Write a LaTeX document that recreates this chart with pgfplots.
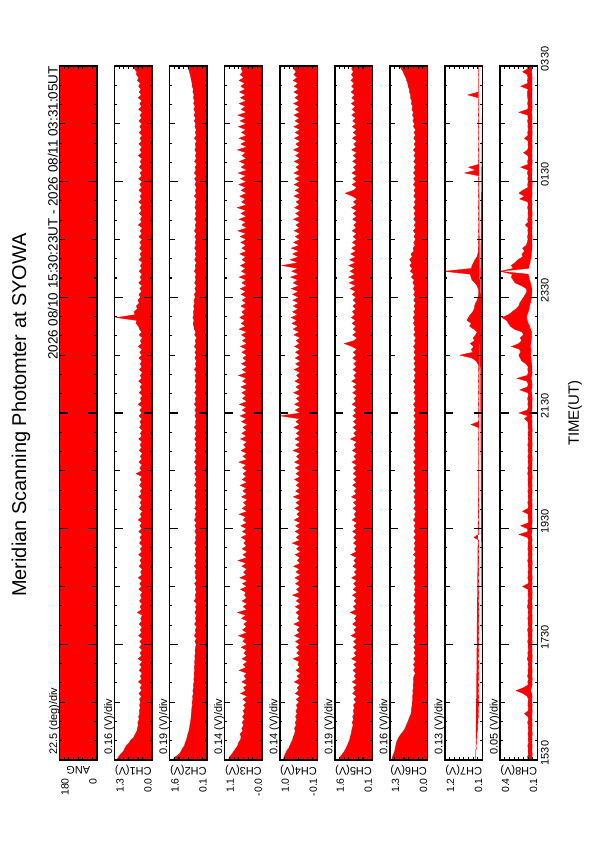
\documentclass[border=0pt]{standalone}
\usepackage{pgfplots}
\pgfplotsset{compat=1.18}
\usepackage{pgfplotstable}
\usepgfplotslibrary{fillbetween}
\usepackage{fontspec}
\setmainfont{Liberation Sans}
\definecolor{msp}{RGB}{255,0,0}

\pgfplotstableread{
t c1 c2 c3 c4 c5 c6 c7 c8l c8u
15.50 1.22 1.48 0.98 0.93 1.45 1.22 0.300 0.108 0.150
15.55 1.15 1.38 0.95 0.92 1.40 1.20 0.310 0.110 0.158
15.60 1.08 1.22 0.88 0.88 1.30 1.16 0.290 0.106 0.147
15.65 0.98 1.14 0.82 0.84 1.22 1.12 0.300 0.111 0.152
15.70 0.93 1.08 0.76 0.78 1.15 1.10 0.280 0.109 0.149
15.75 0.88 1.00 0.70 0.74 1.10 1.08 0.290 0.107 0.155
15.80 0.78 0.97 0.68 0.70 1.05 1.06 0.270 0.112 0.146
15.85 0.72 0.92 0.62 0.66 1.00 1.02 0.280 0.108 0.151
15.90 0.62 0.89 0.60 0.64 0.98 0.97 0.260 0.110 0.148
15.95 0.57 0.86 0.63 0.60 0.94 0.90 0.270 0.106 0.153
16.00 0.52 0.82 0.55 0.58 0.92 0.82 0.250 0.109 0.147
16.05 0.50 0.80 0.58 0.60 0.90 0.76 0.240 0.111 0.150
16.10 0.47 0.78 0.52 0.55 0.86 0.72 0.250 0.107 0.149
16.15 0.49 0.76 0.57 0.58 0.90 0.68 0.230 0.110 0.156
16.20 0.44 0.74 0.50 0.53 0.84 0.64 0.240 0.108 0.147
16.25 0.46 0.73 0.56 0.57 0.88 0.60 0.220 0.112 0.152
16.30 0.42 0.72 0.49 0.52 0.82 0.56 0.230 0.109 0.190
16.35 0.44 0.71 0.55 0.56 0.86 0.55 0.220 0.107 0.151
16.40 0.40 0.70 0.47 0.50 0.80 0.54 0.230 0.110 0.148
16.45 0.43 0.68 0.53 0.55 0.85 0.52 0.210 0.108 0.153
16.50 0.39 0.69 0.44 0.46 0.74 0.52 0.215 0.109 0.152
16.55 0.43 0.66 0.55 0.55 0.83 0.50 0.228 0.111 0.147
16.60 0.36 0.67 0.41 0.43 0.72 0.51 0.210 0.107 0.160
16.65 0.45 0.64 0.62 0.58 0.88 0.49 0.232 0.112 0.205
16.70 0.35 0.66 0.46 0.47 0.76 0.50 0.214 0.125 0.280
16.75 0.41 0.63 0.53 0.52 0.85 0.48 0.224 0.115 0.200
16.80 0.34 0.64 0.42 0.44 0.71 0.49 0.208 0.108 0.150
16.85 0.47 0.61 0.58 0.61 0.90 0.47 0.236 0.110 0.155
16.90 0.36 0.62 0.44 0.45 0.73 0.48 0.212 0.106 0.146
16.95 0.40 0.60 0.51 0.53 0.81 0.46 0.226 0.111 0.158
17.00 0.34 0.61 0.43 0.42 0.74 0.41 0.209 0.109 0.149
17.05 0.44 0.59 0.66 0.56 0.87 0.47 0.230 0.107 0.153
17.10 0.35 0.60 0.45 0.44 0.72 0.42 0.211 0.110 0.147
17.15 0.42 0.58 0.54 0.50 0.84 0.48 0.222 0.112 0.151
17.20 0.33 0.59 0.41 0.46 0.70 0.41 0.207 0.108 0.148
17.25 0.48 0.57 0.57 0.64 0.92 0.47 0.238 0.109 0.162
17.30 0.36 0.58 0.43 0.43 0.73 0.40 0.213 0.106 0.150
17.35 0.41 0.56 0.52 0.54 0.82 0.46 0.225 0.111 0.155
17.40 0.34 0.57 0.44 0.45 0.71 0.41 0.210 0.108 0.146
17.45 0.43 0.55 0.60 0.55 0.86 0.47 0.229 0.110 0.152
17.50 0.35 0.52 0.42 0.44 0.72 0.40 0.212 0.109 0.149
17.55 0.42 0.58 0.55 0.57 0.84 0.46 0.224 0.107 0.156
17.60 0.33 0.51 0.47 0.42 0.70 0.41 0.208 0.111 0.147
17.65 0.46 0.60 0.68 0.60 0.95 0.48 0.233 0.108 0.153
17.70 0.36 0.53 0.43 0.45 0.74 0.40 0.211 0.110 0.150
17.75 0.40 0.57 0.56 0.53 0.83 0.45 0.220 0.106 0.158
17.80 0.34 0.50 0.44 0.43 0.71 0.39 0.209 0.112 0.146
17.85 0.44 0.59 0.52 0.62 0.88 0.47 0.230 0.109 0.152
17.90 0.35 0.52 0.41 0.44 0.73 0.41 0.213 0.107 0.149
17.95 0.39 0.56 0.59 0.51 0.80 0.44 0.218 0.110 0.155
18.00 0.33 0.51 0.45 0.46 0.70 0.40 0.207 0.108 0.147
18.05 0.50 0.58 0.71 0.56 0.98 0.49 0.226 0.111 0.151
18.10 0.36 0.52 0.43 0.43 0.74 0.41 0.210 0.109 0.148
18.15 0.41 0.55 0.54 0.58 0.85 0.45 0.222 0.107 0.160
18.20 0.34 0.50 0.42 0.42 0.71 0.39 0.208 0.110 0.150
18.25 0.43 0.61 0.57 0.55 0.82 0.46 0.231 0.112 0.154
18.30 0.35 0.53 0.44 0.44 0.72 0.40 0.211 0.108 0.146
18.35 0.40 0.57 0.50 0.66 0.89 0.47 0.219 0.109 0.153
18.40 0.33 0.51 0.46 0.45 0.70 0.41 0.209 0.106 0.149
18.45 0.45 0.56 0.62 0.54 0.86 0.44 0.228 0.110 0.152
18.50 0.36 0.52 0.43 0.43 0.73 0.40 0.212 0.112 0.210
18.55 0.42 0.59 0.56 0.57 0.84 0.46 0.224 0.108 0.150
18.60 0.34 0.50 0.41 0.44 0.71 0.39 0.208 0.110 0.147
18.65 0.47 0.57 0.64 0.59 0.92 0.48 0.234 0.107 0.155
18.70 0.35 0.53 0.45 0.42 0.72 0.41 0.210 0.109 0.148
18.75 0.39 0.58 0.53 0.56 0.81 0.45 0.221 0.111 0.153
18.80 0.33 0.51 0.42 0.45 0.70 0.40 0.207 0.108 0.146
18.85 0.44 0.60 0.58 0.63 0.87 0.47 0.229 0.110 0.151
18.90 0.36 0.52 0.44 0.43 0.74 0.41 0.212 0.106 0.149
18.95 0.41 0.56 0.69 0.52 0.83 0.44 0.219 0.109 0.156
19.00 0.34 0.51 0.43 0.44 0.71 0.39 0.209 0.111 0.147
19.05 0.46 0.58 0.55 0.58 0.96 0.48 0.230 0.108 0.152
19.10 0.35 0.52 0.41 0.42 0.73 0.40 0.211 0.110 0.148
19.15 0.40 0.57 0.57 0.54 0.80 0.46 0.223 0.107 0.154
19.20 0.33 0.50 0.44 0.45 0.70 0.41 0.208 0.109 0.150
19.25 0.43 0.59 0.52 0.67 0.85 0.45 0.227 0.112 0.153
19.30 0.36 0.53 0.45 0.44 0.72 0.40 0.213 0.108 0.146
19.35 0.41 0.56 0.60 0.55 0.84 0.47 0.350 0.110 0.158
19.40 0.34 0.51 0.42 0.43 0.71 0.39 0.215 0.115 0.250
19.45 0.45 0.58 0.56 0.58 0.88 0.46 0.226 0.109 0.152
19.50 0.35 0.52 0.44 0.44 0.73 0.41 0.210 0.108 0.160
19.55 0.42 0.58 0.61 0.57 0.83 0.45 0.222 0.113 0.230
19.60 0.34 0.51 0.43 0.42 0.70 0.40 0.209 0.109 0.150
19.65 0.47 0.60 0.54 0.61 0.90 0.48 0.232 0.107 0.147
19.70 0.36 0.53 0.45 0.45 0.74 0.41 0.212 0.110 0.153
19.75 0.40 0.57 0.66 0.53 0.82 0.44 0.220 0.108 0.149
19.80 0.33 0.50 0.42 0.43 0.71 0.39 0.208 0.111 0.210
19.85 0.44 0.59 0.57 0.59 0.87 0.47 0.228 0.109 0.152
19.90 0.35 0.52 0.44 0.44 0.72 0.40 0.211 0.107 0.148
19.95 0.41 0.56 0.53 0.56 0.85 0.45 0.224 0.110 0.155
20.00 0.34 0.51 0.41 0.42 0.70 0.41 0.207 0.108 0.147
20.05 0.46 0.58 0.59 0.64 0.93 0.46 0.231 0.112 0.151
20.10 0.36 0.53 0.43 0.43 0.73 0.40 0.213 0.109 0.149
20.15 0.40 0.57 0.55 0.57 0.81 0.48 0.219 0.107 0.154
20.20 0.33 0.50 0.44 0.44 0.71 0.39 0.209 0.110 0.146
20.25 0.43 0.60 0.63 0.55 0.88 0.45 0.229 0.108 0.152
20.30 0.35 0.52 0.42 0.45 0.72 0.41 0.211 0.111 0.150
20.35 0.41 0.56 0.57 0.60 0.84 0.46 0.222 0.109 0.153
20.40 0.34 0.51 0.45 0.43 0.70 0.40 0.208 0.107 0.148
20.45 0.55 0.59 0.54 0.56 0.86 0.47 0.226 0.110 0.156
20.50 0.36 0.52 0.43 0.44 0.73 0.41 0.212 0.109 0.149
20.55 0.42 0.58 0.56 0.58 0.85 0.46 0.224 0.111 0.155
20.60 0.34 0.51 0.44 0.42 0.71 0.40 0.209 0.108 0.147
20.65 0.45 0.60 0.67 0.60 0.91 0.48 0.230 0.110 0.152
20.70 0.35 0.53 0.42 0.45 0.72 0.39 0.211 0.107 0.149
20.75 0.40 0.56 0.55 0.54 0.83 0.45 0.221 0.109 0.154
20.80 0.33 0.50 0.43 0.43 0.70 0.41 0.208 0.112 0.146
20.85 0.44 0.59 0.60 0.65 0.89 0.47 0.229 0.108 0.153
20.90 0.36 0.52 0.45 0.44 0.74 0.40 0.212 0.110 0.148
20.95 0.41 0.57 0.53 0.57 0.82 0.46 0.223 0.107 0.155
21.00 0.34 0.51 0.42 0.42 0.71 0.39 0.209 0.109 0.147
21.05 0.46 0.59 0.62 0.59 0.97 0.48 0.231 0.111 0.151
21.10 0.35 0.52 0.44 0.44 0.73 0.41 0.212 0.108 0.149
21.15 0.40 0.57 0.58 0.55 0.84 0.45 0.222 0.110 0.153
21.20 0.33 0.50 0.43 0.43 0.70 0.40 0.208 0.107 0.146
21.25 0.43 0.60 0.55 0.62 0.87 0.47 0.228 0.109 0.152
21.30 0.36 0.53 0.41 0.45 0.72 0.41 0.430 0.111 0.150
21.35 0.41 0.56 0.59 0.56 0.85 0.46 0.224 0.108 0.155
21.40 0.34 0.51 0.44 0.44 0.71 0.39 0.210 0.113 0.190
21.45 0.45 0.58 0.63 1.04 0.88 0.47 0.227 0.109 0.152
21.50 0.35 0.52 0.43 0.43 0.73 0.40 0.213 0.118 0.250
21.55 0.42 0.58 0.57 0.58 0.84 0.46 0.222 0.110 0.160
21.60 0.34 0.51 0.44 0.42 0.71 0.41 0.209 0.108 0.148
21.65 0.47 0.60 0.65 0.60 0.90 0.48 0.233 0.111 0.154
21.70 0.36 0.53 0.42 0.44 0.74 0.40 0.212 0.109 0.150
21.75 0.40 0.57 0.56 0.55 0.82 0.45 0.220 0.107 0.157
21.80 0.33 0.50 0.45 0.43 0.70 0.39 0.208 0.110 0.147
21.85 0.44 0.59 0.58 0.63 0.88 0.47 0.229 0.112 0.153
21.90 0.35 0.52 0.43 0.44 0.72 0.41 0.211 0.115 0.240
21.95 0.41 0.56 0.61 0.56 0.85 0.46 0.223 0.109 0.158
22.00 0.34 0.51 0.42 0.42 0.71 0.40 0.209 0.108 0.149
22.05 0.46 0.58 0.56 0.59 0.92 0.48 0.230 0.112 0.165
22.10 0.36 0.53 0.44 0.45 0.73 0.41 0.213 0.118 0.270
22.15 0.40 0.57 0.68 0.54 0.83 0.45 0.221 0.110 0.160
22.20 0.33 0.50 0.43 0.43 0.70 0.39 0.208 0.108 0.148
22.25 0.43 0.60 0.57 0.61 0.87 0.47 0.228 0.111 0.155
22.30 0.35 0.52 0.42 0.44 0.72 0.40 0.212 0.109 0.151
22.35 0.41 0.56 0.59 0.57 0.84 0.46 0.235 0.113 0.175
22.40 0.34 0.51 0.44 0.42 0.71 0.41 0.290 0.116 0.220
22.45 0.45 0.58 0.55 0.58 0.88 0.47 0.400 0.120 0.235
22.50 0.35 0.52 0.43 0.44 0.73 0.40 0.740 0.125 0.250
22.55 0.42 0.58 0.58 0.57 0.85 0.46 0.380 0.120 0.230
22.60 0.34 0.51 0.44 0.43 0.71 0.41 0.420 0.118 0.240
22.65 0.47 0.60 0.62 0.60 0.90 0.48 0.350 0.128 0.330
22.70 0.36 0.53 0.42 0.45 1.22 0.40 0.450 0.122 0.250
22.75 0.40 0.57 0.56 0.55 0.83 0.45 0.330 0.118 0.220
22.80 0.33 0.50 0.45 0.43 0.70 0.39 0.370 0.115 0.235
22.85 0.44 0.59 0.59 0.62 0.88 0.47 0.300 0.112 0.200
22.90 0.35 0.54 0.43 0.46 0.72 0.41 0.260 0.114 0.215
22.95 0.43 0.60 0.66 0.64 0.86 0.46 0.350 0.125 0.300
23.00 0.46 0.62 0.47 0.50 0.74 0.42 0.470 0.135 0.340
23.05 0.55 0.65 0.60 0.68 0.90 0.48 0.420 0.150 0.360
23.10 0.52 0.61 0.48 0.52 0.76 0.43 0.540 0.160 0.380
23.15 1.23 0.66 0.64 0.70 0.93 0.49 0.500 0.170 0.430
23.20 0.58 0.62 0.50 0.51 0.78 0.42 0.450 0.160 0.360
23.25 0.62 0.64 0.58 0.66 0.89 0.47 0.380 0.150 0.320
23.30 0.50 0.60 0.46 0.49 0.75 0.41 0.340 0.140 0.280
23.35 0.54 0.63 0.61 0.64 0.87 0.46 0.330 0.135 0.250
23.40 0.44 0.59 0.45 0.48 0.73 0.40 0.300 0.128 0.240
23.45 0.48 0.62 0.57 0.65 0.86 0.47 0.260 0.120 0.220
23.50 0.40 0.56 0.44 0.47 0.74 0.41 0.230 0.115 0.200
23.55 0.45 0.60 0.60 0.66 0.90 0.47 0.220 0.112 0.180
23.60 0.35 0.53 0.46 0.48 0.76 0.42 0.215 0.110 0.165
23.65 0.42 0.58 0.63 0.70 0.98 0.48 0.228 0.111 0.170
23.70 0.34 0.52 0.43 0.47 0.75 0.43 0.260 0.118 0.220
23.75 0.46 0.59 0.58 0.64 1.02 0.50 0.320 0.125 0.290
23.80 0.36 0.53 0.45 0.50 0.77 0.45 0.400 0.135 0.310
23.85 0.41 0.57 0.66 0.72 1.05 0.55 0.430 0.140 0.330
23.90 0.34 0.52 0.44 0.48 0.78 0.47 0.450 0.150 0.320
23.95 0.44 0.60 0.59 0.68 0.99 0.58 1.180 0.450 0.450
24.00 0.35 0.54 0.47 0.50 0.79 0.52 0.420 0.145 0.310
24.05 0.40 0.57 0.62 0.98 1.04 0.60 0.400 0.140 0.330
24.10 0.33 0.51 0.45 0.49 0.76 0.53 0.360 0.130 0.290
24.15 0.45 0.59 0.57 0.73 1.00 0.61 0.320 0.125 0.260
24.20 0.36 0.53 0.46 0.48 0.75 0.52 0.260 0.118 0.210
24.25 0.41 0.57 0.64 0.66 0.96 0.56 0.240 0.114 0.215
24.30 0.34 0.52 0.44 0.47 0.74 0.46 0.225 0.112 0.190
24.35 0.43 0.59 0.58 0.70 0.92 0.49 0.230 0.110 0.210
24.40 0.35 0.53 0.45 0.46 0.73 0.42 0.215 0.108 0.170
24.45 0.42 0.57 0.61 0.63 0.89 0.47 0.228 0.111 0.160
24.50 0.34 0.52 0.44 0.44 0.72 0.40 0.212 0.109 0.152
24.55 0.45 0.58 0.63 0.58 0.86 0.46 0.224 0.107 0.158
24.60 0.35 0.51 0.45 0.43 0.71 0.41 0.209 0.110 0.149
24.65 0.41 0.60 0.70 0.61 0.90 0.48 0.230 0.112 0.155
24.70 0.33 0.53 0.43 0.45 0.73 0.40 0.211 0.108 0.150
24.75 0.47 0.57 0.58 0.56 0.84 0.45 0.221 0.110 0.180
24.80 0.36 0.50 0.46 0.43 0.70 0.39 0.208 0.107 0.151
24.85 0.40 0.59 0.66 0.63 0.88 0.47 0.229 0.111 0.156
24.90 0.34 0.52 0.44 0.44 0.72 0.41 0.212 0.109 0.148
24.95 0.44 0.56 0.61 0.57 0.86 0.46 0.223 0.107 0.153
25.00 0.35 0.51 0.45 0.42 0.71 0.40 0.209 0.110 0.149
25.05 0.42 0.58 0.72 0.60 0.93 0.48 0.231 0.112 0.157
25.10 0.34 0.53 0.44 0.45 0.73 0.41 0.213 0.108 0.150
25.15 0.46 0.57 0.59 0.55 0.85 0.45 0.222 0.109 0.155
25.20 0.36 0.50 0.47 0.43 0.70 0.39 0.208 0.113 0.240
25.25 0.41 0.60 0.64 0.62 0.89 0.47 0.230 0.110 0.190
25.30 0.34 0.52 0.44 0.44 1.18 0.41 0.212 0.108 0.250
25.35 0.45 0.56 0.60 0.58 0.85 0.46 0.224 0.111 0.210
25.40 0.35 0.51 0.46 0.43 0.71 0.40 0.209 0.109 0.152
25.45 0.42 0.58 0.67 0.61 0.90 0.48 0.229 0.107 0.156
25.50 0.34 0.52 0.44 0.44 0.72 0.41 0.212 0.108 0.150
25.55 0.46 0.59 0.62 0.59 0.87 0.47 0.225 0.110 0.155
25.60 0.35 0.51 0.45 0.43 0.71 0.40 0.209 0.112 0.149
25.65 0.41 0.60 0.69 0.62 0.91 0.48 0.610 0.110 0.160
25.70 0.33 0.53 0.43 0.45 0.73 0.41 0.300 0.108 0.150
25.75 0.44 0.57 0.60 0.56 0.85 0.46 0.500 0.113 0.230
25.80 0.36 0.50 0.47 0.44 0.70 0.39 0.215 0.109 0.151
25.85 0.40 0.59 0.65 0.61 0.88 0.47 0.228 0.107 0.157
25.90 0.34 0.52 0.44 0.43 0.72 0.40 0.211 0.110 0.148
25.95 0.47 0.56 0.58 0.57 0.86 0.46 0.223 0.108 0.154
26.00 0.35 0.51 0.46 0.44 0.71 0.41 0.209 0.111 0.200
26.05 0.42 0.58 0.71 0.63 0.92 0.48 0.232 0.109 0.156
26.10 0.34 0.53 0.43 0.45 0.73 0.40 0.212 0.107 0.149
26.15 0.45 0.57 0.61 0.56 0.84 0.46 0.221 0.110 0.153
26.20 0.36 0.50 0.45 0.43 0.70 0.39 0.208 0.108 0.150
26.25 0.41 0.60 0.66 0.60 0.89 0.47 0.229 0.112 0.190
26.30 0.34 0.52 0.44 0.44 0.72 0.41 0.212 0.109 0.151
26.35 0.44 0.56 0.59 0.58 0.86 0.46 0.223 0.107 0.156
26.40 0.35 0.52 0.46 0.43 0.71 0.40 0.210 0.110 0.148
26.45 0.42 0.58 0.68 0.62 0.90 0.48 0.228 0.108 0.154
26.50 0.35 0.54 0.45 0.44 0.74 0.44 0.212 0.109 0.151
26.55 0.45 0.60 0.63 0.59 0.88 0.50 0.225 0.111 0.157
26.60 0.36 0.55 0.46 0.45 0.75 0.46 0.210 0.108 0.150
26.65 0.41 0.61 0.70 0.62 0.92 0.51 0.230 0.110 0.155
26.70 0.34 0.56 0.44 0.44 0.76 0.48 0.212 0.114 0.250
26.75 0.46 0.62 0.60 0.58 0.90 0.53 0.224 0.109 0.156
26.80 0.36 0.57 0.47 0.45 0.77 0.50 0.209 0.107 0.150
26.85 0.42 0.63 0.66 0.63 0.93 0.55 0.229 0.110 0.157
26.90 0.35 0.59 0.45 0.46 0.78 0.53 0.213 0.108 0.151
26.95 0.47 0.64 0.62 0.59 0.91 0.58 0.223 0.111 0.155
27.00 0.37 0.61 0.47 0.47 0.80 0.57 0.520 0.109 0.160
27.05 0.44 0.66 0.65 0.62 0.94 0.62 0.226 0.110 0.158
27.10 0.38 0.64 0.48 0.48 0.81 0.62 0.211 0.108 0.152
27.15 0.46 0.69 0.61 0.61 0.92 0.66 0.228 0.112 0.230
27.20 0.40 0.69 0.49 0.49 0.82 0.67 0.213 0.109 0.156
27.25 0.50 0.72 0.66 0.64 0.95 0.71 0.227 0.110 0.159
27.30 0.45 0.74 0.52 0.52 0.84 0.74 0.214 0.108 0.153
27.35 0.54 0.77 0.63 0.62 0.93 0.79 0.229 0.111 0.160
27.40 0.52 0.80 0.55 0.55 0.85 0.83 0.216 0.113 0.210
27.45 0.60 0.84 0.60 0.63 0.92 0.89 0.225 0.110 0.158
27.50 0.64 0.87 0.58 0.60 0.88 0.95 0.220 0.109 0.155
}\data

\pgfplotsset{
  mspanel/.style={
    scale only axis, width=37.5bp, height=694bp,
    anchor=south west,
    ymin=15.5, ymax=27.5, x dir=reverse,
    axis on top,
    axis line style={line width=1.5bp, black},
    tick align=inside,
    tick style={line width=1.1bp, black},
    ytick={15.5,16.5,...,27.5},
    minor y tick num=2,
    yticklabels={},
    xticklabels={},
    major tick length=5bp, minor tick length=2.5bp,
    extra y ticks={15.5,17.5,...,27.5},
    extra y tick labels={},
    extra y tick style={major tick length=8.5bp},
    xtick style={/pgfplots/major tick length=3bp},
  }
}

\newcommand\chpanel[6]{%
\begin{axis}[mspanel, at={(#1bp,82bp)}, xmin=#3, xmax=#4, xtick={#5}, #6]
\addplot[draw=none, name path=d#2] table[x=#2, y=t]{\data};
\addplot[draw=none, name path=b#2] coordinates {(#3,15.5) (#3,27.5)};
\addplot[fill=msp, draw=none] fill between[of=d#2 and b#2];
\addplot[msp, line width=0.3bp] table[x=#2, y=t]{\data};
\end{axis}}

\newcommand\lbl{\fontsize{11}{13}\selectfont}
\newcommand\rng{\fontsize{10.5}{12}\selectfont}
\newcommand\plabels[5]{%
 \node[rotate=90, anchor=base west, font=\lbl, inner sep=0] at (#1bp-2.5bp, 87bp) {#3};
 \node[rotate=180, font=\lbl, inner sep=0] at (#1bp+18.75bp, 72bp) {#2};
 \node[rotate=90, anchor=east, font=\rng, inner sep=0] at (#1bp+5.5bp, 64bp) {#4};
 \node[rotate=90, anchor=east, font=\rng, inner sep=0] at (#1bp+33.5bp, 64bp) {#5};
}

\begin{document}
\begin{tikzpicture}
\path (0,0) rectangle (595bp,842bp);

% ANG panel
\begin{axis}[mspanel, at={(59.5bp,82bp)}, xmin=0, xmax=180, xtick={0,22.5,...,180}]
\addplot[fill=msp, draw=msp] coordinates {(0,15.5) (180,15.5) (180,27.5) (0,27.5) (0,15.5)};
\end{axis}

\chpanel{114.57}{c1}{0}{1.28}{0,0.16,...,1.28}{}
\chpanel{169.64}{c2}{0.08}{1.60}{0.08,0.27,...,1.60}{}
\chpanel{224.71}{c3}{-0.03}{1.09}{-0.03,0.11,...,1.09}{}
\chpanel{279.78}{c4}{-0.08}{1.04}{-0.08,0.06,...,1.04}{}
\chpanel{334.85}{c5}{0.08}{1.60}{0.08,0.27,...,1.60}{}
\chpanel{389.92}{c6}{0}{1.28}{0,0.16,...,1.28}{}
\chpanel{444.99}{c7}{0.11}{1.15}{0.11,0.24,...,1.15}{}

% CH8 panel (band between lower and upper envelope)
\begin{axis}[mspanel, at={(500.06bp,82bp)}, xmin=0.05, xmax=0.45, xtick={0.05,0.10,...,0.45},
  yticklabel pos=right,
  yticklabels={1530,,1730,,1930,,2130,,2330,,0130,,0330},
  yticklabel style={rotate=90, anchor=north, font=\fontsize{11}{13}\selectfont, xshift=7bp}]
\addplot[draw=none, name path=lo8] table[x=c8l, y=t]{\data};
\addplot[draw=none, name path=up8] table[x=c8u, y=t]{\data};
\addplot[fill=msp, draw=none] fill between[of=up8 and lo8];
\addplot[msp, line width=0.3bp] table[x=c8u, y=t]{\data};
\addplot[msp, line width=0.3bp] table[x=c8l, y=t]{\data};
\end{axis}

% texts
\node[rotate=90, font=\fontsize{20}{24}\selectfont] at (21bp,427bp) {Meridian Scanning Photomter at SYOWA};
\node[rotate=90, anchor=base east, font=\fontsize{13.5}{16}\selectfont, inner sep=0] at (57.5bp,776bp) {2026 08/10 15:30:23UT - 2026 08/11 03:31:05UT};
\node[rotate=90, font=\fontsize{15}{18}\selectfont] at (575bp,429bp) {TIME(UT)};

\plabels{59.5}{ANG}{22.5 (deg)/div}{180}{0}
\plabels{114.57}{CH1(V)}{0.16 (V)/div}{1.3}{0.0}
\plabels{169.64}{CH2(V)}{0.19 (V)/div}{1.6}{0.1}
\plabels{224.71}{CH3(V)}{0.14 (V)/div}{1.1}{-0.0}
\plabels{279.78}{CH4(V)}{0.14 (V)/div}{1.0}{-0.1}
\plabels{334.85}{CH5(V)}{0.19 (V)/div}{1.6}{0.1}
\plabels{389.92}{CH6(V)}{0.16 (V)/div}{1.3}{0.0}
\plabels{444.99}{CH7(V)}{0.13 (V)/div}{1.2}{0.1}
\plabels{500.06}{CH8(V)}{0.05 (V)/div}{0.4}{0.1}
\end{tikzpicture}
\end{document}
